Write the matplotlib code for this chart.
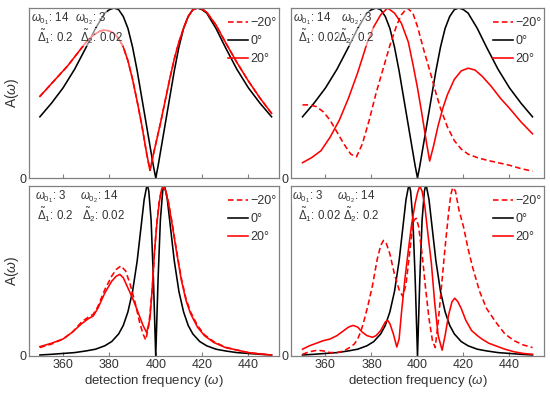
import matplotlib
matplotlib.use("Agg")
import matplotlib.pyplot as plt

plt.rcParams['font.family'] = ['Liberation Sans', 'DejaVu Sans']
plt.rcParams['mathtext.fontset'] = 'custom'
plt.rcParams['mathtext.rm'] = 'Liberation Sans'
plt.rcParams['mathtext.it'] = 'Liberation Sans:italic'
plt.rcParams['text.color'] = '#333333'

# black curve (0 deg), same in both top panels
f_black_top = [350, 355, 360, 365, 370, 374, 378, 380, 382, 384, 386, 388, 390, 392, 394, 396, 398, 399, 400,
               401, 402, 404, 406, 408, 410, 412, 414, 416, 418, 420, 422, 426, 430, 435, 440, 445, 450]
a_black_top = [0.36, 0.44, 0.53, 0.64, 0.77, 0.88, 0.97, 0.99, 1.0, 0.99, 0.95, 0.88, 0.77, 0.63, 0.47, 0.31, 0.15, 0.07, 0.0,
               0.07, 0.15, 0.31, 0.47, 0.63, 0.77, 0.88, 0.95, 0.99, 1.0, 0.99, 0.97, 0.88, 0.77, 0.64, 0.53, 0.44, 0.36]

# black curve (0 deg), same in both bottom panels
f_black_bot = [350, 355, 360, 365, 370, 374, 378, 381, 384, 386, 388, 390, 392, 393.5, 395, 396, 396.5, 397, 398, 399, 400,
               401, 402, 403, 403.5, 404, 405, 406.5, 408, 410, 412, 414, 416, 419, 422, 426, 430, 435, 440, 445, 450]
a_black_bot = [0.006, 0.01, 0.015, 0.02, 0.03, 0.04, 0.06, 0.085, 0.13, 0.18, 0.26, 0.38, 0.56, 0.74, 0.92, 0.99, 1.0, 0.97, 0.80, 0.45, 0.0,
               0.45, 0.80, 0.97, 1.0, 0.99, 0.92, 0.74, 0.56, 0.38, 0.26, 0.18, 0.13, 0.085, 0.06, 0.04, 0.03, 0.02, 0.015, 0.01, 0.006]

# top left: -20 and +20 lie on top of each other
f_tl = [350, 354, 358, 362, 366, 370, 373, 376, 378, 380, 382, 384, 386, 388, 390, 392, 394, 396, 397.5, 399,
        400, 402, 404, 406, 408, 410, 412, 414, 416, 418, 420, 422, 426, 430, 435, 440, 445, 450]
a_tl = [0.48, 0.54, 0.60, 0.66, 0.73, 0.80, 0.84, 0.865, 0.87, 0.865, 0.85, 0.82, 0.77, 0.69, 0.58, 0.45, 0.31, 0.15, 0.045, 0.14,
        0.20, 0.32, 0.45, 0.58, 0.70, 0.80, 0.88, 0.95, 0.99, 1.0, 0.995, 0.975, 0.90, 0.80, 0.68, 0.57, 0.47, 0.38]

# top right
f_tr_p20 = [350, 354, 358, 362, 366, 370, 374, 378, 381, 384, 387, 390, 393, 396, 398, 400, 402, 404, 405.3,
            407, 409, 411, 413, 416, 419, 422, 425, 428, 432, 436, 440, 445, 450]
a_tr_p20 = [0.09, 0.12, 0.16, 0.24, 0.34, 0.47, 0.62, 0.79, 0.89, 0.96, 1.0, 0.97, 0.91, 0.80, 0.67, 0.53, 0.37, 0.20, 0.10,
            0.19, 0.31, 0.41, 0.49, 0.58, 0.63, 0.646, 0.635, 0.60, 0.54, 0.47, 0.41, 0.33, 0.26]
f_tr_m20 = [350, 353, 356, 359, 362, 365, 368, 371, 373.5, 376, 379, 382, 385, 388, 391, 393, 395.5, 398, 400,
            403, 406, 408, 410, 413, 416, 419, 422, 426, 430, 435, 440, 445, 450]
a_tr_m20 = [0.43, 0.43, 0.42, 0.39, 0.34, 0.27, 0.20, 0.14, 0.125, 0.20, 0.34, 0.50, 0.64, 0.78, 0.90, 0.96, 1.0, 0.97, 0.89,
            0.74, 0.60, 0.50, 0.41, 0.30, 0.22, 0.17, 0.14, 0.12, 0.105, 0.09, 0.075, 0.055, 0.04]

# bottom left
f_bl_p20 = [350, 355, 360, 364, 368, 371, 373, 375, 378, 381, 383, 384.5, 386, 388, 390, 392, 394.5, 396.1, 397.5, 398.5,
            399.5, 400.5, 401.5, 402.5, 403.3, 404.3, 405.5, 407, 409, 411, 413, 415, 418, 421, 425, 430, 435, 440, 445, 450]
a_bl_p20 = [0.055, 0.075, 0.10, 0.14, 0.19, 0.22, 0.235, 0.28, 0.37, 0.44, 0.47, 0.48, 0.46, 0.40, 0.34, 0.27, 0.18, 0.137, 0.22, 0.40,
            0.62, 0.78, 0.90, 0.98, 1.0, 0.97, 0.90, 0.78, 0.61, 0.45, 0.33, 0.25, 0.17, 0.12, 0.08, 0.05, 0.035, 0.02, 0.012, 0.006]
f_bl_m20 = [350, 355, 360, 364, 368, 371, 373, 375, 378, 381, 383, 385, 387, 389, 391, 393, 394.5, 395.7, 397, 398.5,
            399.5, 400.5, 401.5, 402.5, 403.3, 404.3, 405.5, 407, 409, 411, 413, 415, 418, 421, 425, 430, 435, 440, 445, 450]
a_bl_m20 = [0.05, 0.07, 0.10, 0.14, 0.20, 0.23, 0.245, 0.29, 0.39, 0.47, 0.51, 0.53, 0.50, 0.42, 0.32, 0.20, 0.13, 0.094, 0.18, 0.39,
            0.62, 0.79, 0.91, 0.98, 1.0, 0.975, 0.905, 0.79, 0.62, 0.46, 0.34, 0.26, 0.18, 0.125, 0.085, 0.052, 0.035, 0.02, 0.012, 0.006]

# bottom right
f_br_p20 = [350, 353, 356, 359, 362, 365, 368, 370, 372, 374, 376, 378, 380.4, 382, 384, 386, 387, 388, 389.5, 391, 392, 393,
            394.5, 396, 397.5, 399, 400, 401, 402, 403.2, 404.5, 406, 407.5, 409, 410.7, 412, 413.5, 415, 416.2, 417.5,
            419, 421, 423.5, 426, 428, 431, 434, 438, 442, 446, 450]
a_br_p20 = [0.04, 0.06, 0.075, 0.09, 0.10, 0.12, 0.15, 0.17, 0.18, 0.17, 0.14, 0.12, 0.11, 0.12, 0.15, 0.20, 0.21, 0.19, 0.13, 0.053, 0.10, 0.25,
            0.45, 0.62, 0.78, 0.90, 0.96, 1.0, 0.97, 0.88, 0.72, 0.55, 0.31, 0.12, 0.034, 0.12, 0.24, 0.32, 0.34, 0.32,
            0.28, 0.21, 0.15, 0.12, 0.10, 0.075, 0.06, 0.04, 0.025, 0.015, 0.01]
f_br_m20 = [350, 353, 356.5, 359, 362, 365, 368, 370.5, 372.5, 374, 375.5, 377, 378.5, 380.5, 382.5, 384, 385.2, 386.5, 388,
            390, 392, 393.6, 395, 396.5, 397.5, 398.5, 399.5, 400.5, 402, 403.5, 405, 406.5, 407.7, 409, 410.5, 412,
            413.5, 414.5, 415.3, 416.5, 418, 420, 422, 424, 427, 430, 434, 438, 442, 446, 450]
a_br_m20 = [0.01, 0.025, 0.034, 0.03, 0.02, 0.02, 0.03, 0.05, 0.07, 0.10, 0.15, 0.22, 0.30, 0.42, 0.57, 0.65, 0.68, 0.66, 0.60,
            0.48, 0.39, 0.35, 0.42, 0.60, 0.72, 0.80, 0.81, 0.76, 0.60, 0.40, 0.22, 0.09, 0.05, 0.20, 0.42, 0.64,
            0.84, 0.95, 0.99, 0.97, 0.86, 0.76, 0.63, 0.52, 0.38, 0.28, 0.20, 0.13, 0.09, 0.065, 0.05]

xticks = [360, 380, 400, 420, 440]
w01 = ['14', '14', '3', '3']
w02 = ['3', '3', '14', '14']
d1 = ['0.2', '0.02', '0.2', '0.02']
d2 = ['0.02', '0.2', '0.02', '0.2']
legend_labels = ['\u221220\u00b0', '0\u00b0', '20\u00b0']

W, H = 550, 393
fig = plt.figure(figsize=(W / 100, H / 100), dpi=100)

# axes boxes in pixels: left, top, width, height
boxes = [(29, 8, 250, 170), (291, 8, 253, 170), (29, 186, 250, 170), (291, 186, 253, 170)]
xlims = [(345.3, 453.2), (345.0, 455.0), (345.3, 453.2), (345.0, 455.0)]
# text x offsets in pixels from the left spine
txt_off = [(2, 46, 8, 51), (2, 50, 7, 47), (6, 51, 8, 53), (1, 46, 7, 52)]

curves = [
    (f_tl, a_tl, f_black_top, a_black_top, f_tl, a_tl),
    (f_tr_m20, a_tr_m20, f_black_top, a_black_top, f_tr_p20, a_tr_p20),
    (f_bl_m20, a_bl_m20, f_black_bot, a_black_bot, f_bl_p20, a_bl_p20),
    (f_br_m20, a_br_m20, f_black_bot, a_black_bot, f_br_p20, a_br_p20),
]

gray = '#808080'
bbox = dict(facecolor='white', alpha=0.55, edgecolor='none', pad=0)

for i, (l, t, w, h) in enumerate(boxes):
    ax = fig.add_axes([l / W, (H - t - h) / H, w / W, h / H])
    fm, am, fb, ab, fp, ap = curves[i]
    lk, = ax.plot(fb, ab, color='black', lw=1.15)
    lm, = ax.plot(fm, am, color='red', lw=1.15, ls=(0, (3.5, 2)))
    lp, = ax.plot(fp, ap, color='red', lw=1.15)

    ax.set_xlim(*xlims[i])
    ax.set_ylim(0, 1.0)
    ax.set_xticks(xticks)
    ax.set_yticks([0])
    ax.tick_params(axis='x', direction='in', length=3, color=gray, labelsize=9,
                   labelcolor='#333333', pad=2)
    ax.tick_params(axis='y', length=0, labelsize=9, labelcolor='#333333', pad=2)
    for s in ax.spines.values():
        s.set_color(gray)
        s.set_linewidth(0.9)

    if i < 2:
        ax.tick_params(axis='x', labelbottom=False)
    else:
        ax.set_xlabel(r'detection frequency ($\omega$)', fontsize=9.5, color='#333333', labelpad=1.5)
    if i % 2 == 0:
        ax.set_ylabel(r'A($\omega$)', fontsize=10, color='#333333', labelpad=-1)

    o = txt_off[i]
    y1 = 1 - 11 / h
    y2 = 1 - 29 / h
    ax.text(o[0] / w, y1, r'$\omega_{0_1}$: ' + w01[i], transform=ax.transAxes,
            fontsize=8.3, va='center', ha='left', bbox=bbox)
    ax.text(o[1] / w, y1, r'$\omega_{0_2}$: ' + w02[i], transform=ax.transAxes,
            fontsize=8.3, va='center', ha='left', bbox=bbox)
    ax.text(o[2] / w, y2, r'$\tilde{\Delta}_1$: ' + d1[i], transform=ax.transAxes,
            fontsize=8.3, va='center', ha='left', bbox=bbox)
    ax.text(o[3] / w, y2, r'$\tilde{\Delta}_2$: ' + d2[i], transform=ax.transAxes,
            fontsize=8.3, va='center', ha='left', bbox=bbox)

    ax.legend([lm, lk, lp], legend_labels, loc='upper right', frameon=False, fontsize=9,
              handlelength=1.6, handletextpad=0.25, labelspacing=0.5,
              borderaxespad=0, borderpad=0,
              bbox_to_anchor=(1 - 2 / w, 1 - 9 / h))

fig.savefig('out.png', dpi=100)
